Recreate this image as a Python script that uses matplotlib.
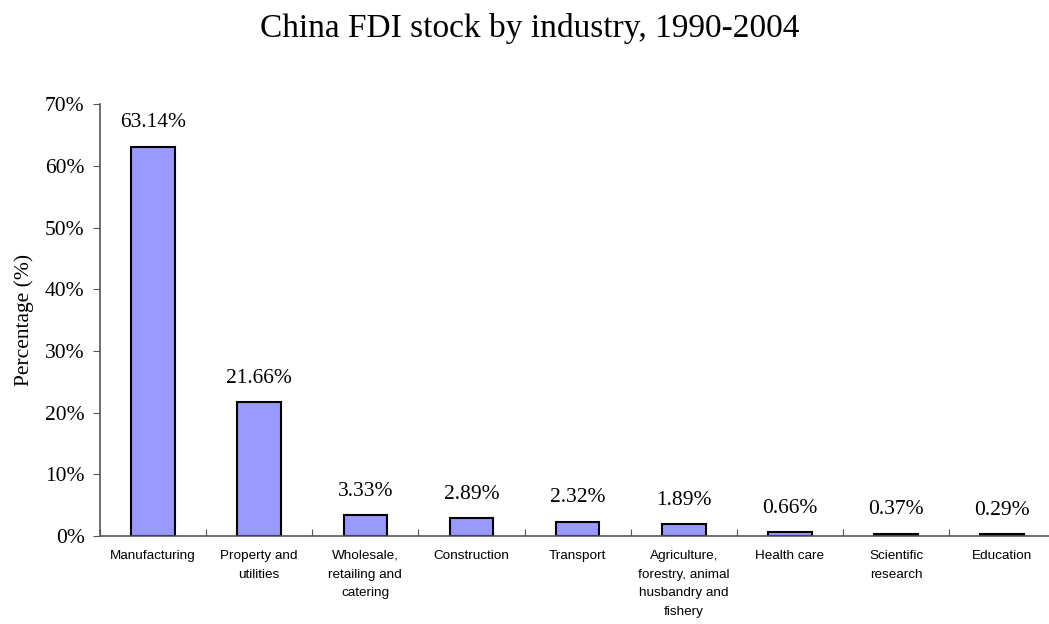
import numpy as np
import matplotlib.pyplot as plt
from matplotlib.ticker import FixedLocator, FuncFormatter

industries = ["Manufacturing", "Property and\nutilities", "Wholesale,\nretailing and\ncatering",
              "Construction", "Transport", "Agriculture,\nforestry, animal\nhusbandry and\nfishery",
              "Health care", "Scientific\nresearch", "Education"]
shares = [63.14, 21.66, 3.33, 2.89, 2.32, 1.89, 0.66, 0.37, 0.29]
value_labels = ["63.14%", "21.66%", "3.33%", "2.89%", "2.32%", "1.89%", "0.66%", "0.37%", "0.29%"]

serif = ["Liberation Serif", "DejaVu Serif"]
sans = ["Liberation Sans", "DejaVu Sans"]

fig = plt.figure(figsize=(10.49, 6.24), dpi=100)
ax = fig.add_axes([0.0953, 0.141, 1.006 - 0.0953, 0.833 - 0.141])

x = np.arange(len(shares))
ax.bar(x, shares, width=0.41, color="#9999FF", edgecolor="black", linewidth=1.5)

for xi, v, lab in zip(x, shares, value_labels):
    ax.annotate(lab, (xi, v), xytext=(0, 14), textcoords="offset points",
                ha="center", va="baseline", fontsize=15.5, family=serif)

ax.set_xlim(-0.5, len(shares) - 0.5)
ax.set_ylim(0, 70)
ax.set_yticks(np.arange(0, 71, 10))
ax.yaxis.set_major_formatter(FuncFormatter(lambda v, p: f"{int(v)}%"))
for t in ax.get_yticklabels():
    t.set_fontfamily(serif)
    t.set_fontsize(15.5)
ax.tick_params(axis="y", direction="out", length=5, color="#555555", pad=6)

# category ticks between bars, labels centered under bars
ax.xaxis.set_major_locator(FixedLocator(np.arange(-0.5, len(shares), 1.0)))
ax.xaxis.set_major_formatter(FuncFormatter(lambda v, p: ""))
ax.xaxis.set_minor_locator(FixedLocator(x))
ax.set_xticklabels(industries, minor=True, fontsize=9.7, family=sans, linespacing=1.75)
ax.tick_params(axis="x", which="major", direction="in", length=5, color="#555555")
ax.tick_params(axis="x", which="minor", length=0, pad=10)
for t in ax.get_xticklabels(minor=True):
    t.set_va("top")

ax.spines["top"].set_visible(False)
ax.spines["right"].set_visible(False)
ax.spines["left"].set_color("#555555")
ax.spines["bottom"].set_color("#555555")
ax.spines["left"].set_linewidth(1.2)
ax.spines["bottom"].set_linewidth(1.2)

ax.set_ylabel("Percentage (%)", fontsize=15.5, family=serif, labelpad=8)
fig.text(0.505, 0.955, "China FDI stock by industry, 1990-2004", ha="center", va="center",
         fontsize=24, family=serif)

fig.savefig("out.png", dpi=100)
